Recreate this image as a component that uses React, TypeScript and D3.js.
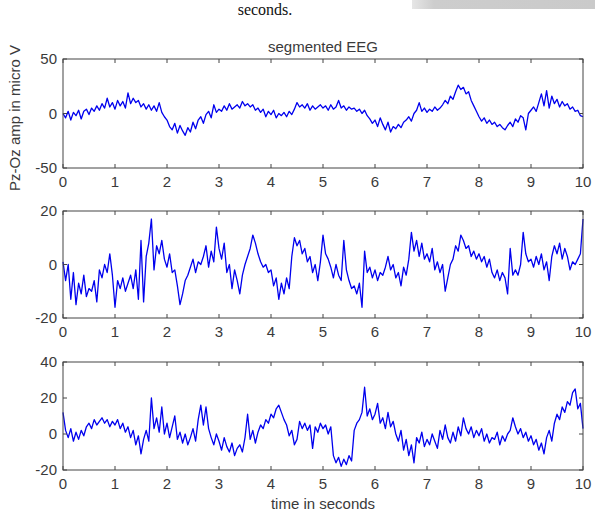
import React from "react";
import * as d3 from "d3";

// ---- data (µV, sampled every 0.05 s from 0 to 10 s) ----
const SAMPLE_STEP = 0.05;

const eeg1: number[] = [
  0, -4, 2, -6, 1, -2, 3, -5, 2, 4, -1, 5, 2, 7, 3, 9, 5, 14, 6, 10,
  4, 12, 7, 11, 5, 19, 9, 14, 10, 12, 6, 9, 4, 8, 3, 7, 2, 10, 1, -3,
  -6, -12, -15, -9, -18, -11, -16, -20, -13, -17, -8, -14, -6, -3, -9, -1, 2, -4, 8, 1,
  4, 2, 7, 3, 9, 4, 6, 8, 5, 11, 7, 9, 6, 8, 3, 5, 1, 4, -3, 2,
  -1, 3, -4, 0, -2, 1, -3, 2, -1, 4, 10, 6, 8, 5, 9, 3, 7, 4, 6, 8,
  5, 7, 3, 8, 4, 6, 12, 5, 7, 3, 6, 4, 5, 2, 4, 0, 3, -2, -5, -9,
  -6, -12, -4, -10, -15, -8, -17, -12, -14, -10, -13, -8, -6, -3, -7, 0, 3, 10, 2, 5,
  1, 4, 2, 6, 3, 5, 8, 12, 9, 16, 13, 20, 26, 22, 24, 18, 20, 12, 7, 2,
  -3, -7, -4, -9, -6, -10, -8, -12, -10, -13, -15, -11, -8, -12, -5, -8, -2, -4, -15, 0,
  3, 6, 2, 10, 18, 7, 21, 5, 16, 9, 13, 6, 11, 7, 9, 4, 6, 2, 3, -2,
  -3,
];

const eeg2: number[] = [
  1, -6, 0, -13, -3, -15, -7, -11, -4, -12, -9, -10, -6, -14, -2, -5, 0, -3, 4, -4,
  -16, -6, -9, -5, -10, -7, -4, -9, -2, -13, 9, -14, 3, 8, 17, -2, 7, 4, 9, 2,
  -1, 4, -3, -2, -8, -15, -11, -6, -4, -1, 2, -3, 1, 0, 3, 7, -1, 5, 1, 14,
  6, 2, 8, -3, 0, -9, -2, -6, -11, -4, 0, 3, 6, 11, 8, 4, 1, -1, 0, -3,
  -2, -8, -5, -13, -7, -11, -5, -9, 3, 10, 7, 9, 4, 6, 1, 3, -3, 0, -6, 1,
  11, 4, 2, -1, -5, 0, -4, -6, 9, -2, -6, -9, -8, -11, -7, -16, 5, -3, -1, -5,
  -2, -6, -3, -4, -1, 3, -2, 0, -5, -3, -8, -1, -4, 2, 12, 5, 9, 3, 8, 2,
  4, 1, 6, -2, 1, -3, 0, -10, -5, 0, 2, 7, 5, 11, 9, 6, 7, 3, 5, 2,
  4, 1, 3, -1, 2, -3, -5, -2, -6, -3, -5, -11, 6, -4, -2, -4, 0, 12, 4, 1,
  2, -1, 3, 0, 4, -2, 1, -6, 3, 7, 4, 8, 2, 6, 3, -2, 1, 0, 2, 4,
  17,
];

const eeg3: number[] = [
  12, 2, -2, 3, -4, 1, -3, 2, -1, 4, 6, 3, 8, 5, 7, 9, 6, 8, 4, 7,
  5, 8, 3, 6, 1, 4, -2, 2, -6, -1, -11, -3, 2, -4, 20, 3, 9, 1, 15, 0,
  6, -2, 4, 10, -3, 1, -5, 0, -6, -2, 3, -4, 8, 16, 5, 15, 3, -2, -6, 0,
  -4, -9, -2, -7, -10, -5, -12, -8, -6, -10, -2, 11, -3, 2, -5, 1, 5, 3, 8, 6,
  11, 9, 14, 16, 12, 8, 5, -1, 2, -6, -3, 7, 3, 6, 2, 5, -8, 4, 1, 6,
  3, 5, 0, 4, -12, -16, -13, -18, -14, -17, -12, -15, 2, 6, 8, 12, 26, 10, 14, 8,
  11, 17, 6, 9, 3, 12, 4, 7, 0, -4, 2, -9, -3, -12, -6, -16, -2, -5, 1, -7,
  -3, -6, 0, -4, -8, 2, -3, 5, -2, -5, 1, -4, 4, -1, 9, 3, 0, 4, -2, 2,
  -1, 3, -4, 0, -5, -2, -3, 1, -6, -1, -4, 0, 2, 9, 4, 0, 3, -2, 1, -4,
  -1, -6, -3, -9, -5, -11, -2, 2, -4, 6, 11, 8, 15, 12, 18, 16, 23, 25, 14, 17,
  3,
];

const xTicks: number[] = [0, 1, 2, 3, 4, 5, 6, 7, 8, 9, 10];
const yTicks1: number[] = [-50, 0, 50];
const yTicks2: number[] = [-20, 0, 20];
const yTicks3: number[] = [-20, 0, 20, 40];
const yDomain1: [number, number] = [-50, 50];
const yDomain2: [number, number] = [-20, 20];
const yDomain3: [number, number] = [-20, 40];

const titleText = "segmented EEG";
const xLabelText = "time in seconds";
const yLabelText = "Pz-Oz amp in micro V";
const topCutText = "seconds.";

// ---- layout ----
const W = 595;
const H = 511;
const LEFT = 63;
const RIGHT = 583;
const FONT = "Arial, 'Liberation Sans', Helvetica, sans-serif";
const TEXT_COLOR = "#3a3a3a";
const AXIS_COLOR = "#444";
const TICK_LEN = 4;

const panels = [
  { data: eeg1, domain: yDomain1, ticks: yTicks1, top: 59, bottom: 168 },
  { data: eeg2, domain: yDomain2, ticks: yTicks2, top: 211, bottom: 318 },
  { data: eeg3, domain: yDomain3, ticks: yTicks3, top: 362, bottom: 470 },
];

const x = d3.scaleLinear().domain([0, 10]).range([LEFT, RIGHT]);

function Panel({ p }: { p: (typeof panels)[number] }) {
  const y = d3.scaleLinear().domain(p.domain).range([p.bottom, p.top]);
  const line = d3
    .line<number>()
    .x((_, i) => x(i * SAMPLE_STEP))
    .y((v) => y(v));
  return (
    <g>
      <path d={line(p.data) || ""} fill="none" stroke="#0000ee" strokeWidth={1.3} strokeLinejoin="round" />
      <rect x={LEFT} y={p.top} width={RIGHT - LEFT} height={p.bottom - p.top} fill="none" stroke={AXIS_COLOR} strokeWidth={1} />
      {xTicks.map((t) => (
        <g key={"x" + t}>
          <line x1={x(t)} x2={x(t)} y1={p.bottom} y2={p.bottom - TICK_LEN} stroke={AXIS_COLOR} />
          <line x1={x(t)} x2={x(t)} y1={p.top} y2={p.top + TICK_LEN} stroke={AXIS_COLOR} />
          <text x={x(t)} y={p.bottom + 19} textAnchor="middle" fontSize={15} fontFamily={FONT} fill={TEXT_COLOR}>
            {t}
          </text>
        </g>
      ))}
      {p.ticks.map((t) => (
        <g key={"y" + t}>
          <line x1={LEFT} x2={LEFT + TICK_LEN} y1={y(t)} y2={y(t)} stroke={AXIS_COLOR} />
          <line x1={RIGHT} x2={RIGHT - TICK_LEN} y1={y(t)} y2={y(t)} stroke={AXIS_COLOR} />
          <text x={LEFT - 6} y={y(t) + 5} textAnchor="end" fontSize={15} fontFamily={FONT} fill={TEXT_COLOR}>
            {t}
          </text>
        </g>
      ))}
    </g>
  );
}

export default function App() {
  return (
    <svg
      width={W}
      height={H}
      viewBox={`0 0 ${W} ${H}`}
      style={{ position: "absolute", left: 0, top: 0, background: "#fff" }}
    >
      <defs>
        <linearGradient id="grayBar" x1="0" x2="1" y1="0" y2="0">
          <stop offset="0" stopColor="#e6e6e6" />
          <stop offset="0.12" stopColor="#cdcdcd" />
          <stop offset="1" stopColor="#cacaca" />
        </linearGradient>
      </defs>
      <rect x={0} y={0} width={W} height={H} fill="#fff" />
      <rect x={412} y={0} width={W - 412} height={9} fill="url(#grayBar)" />
      <text x={265} y={15} textAnchor="middle" fontSize={16} fontFamily="'Liberation Serif', 'Times New Roman', serif" fill="#111">
        {topCutText}
      </text>
      {panels.map((p, i) => (
        <Panel key={i} p={p} />
      ))}
      <text x={323} y={52} textAnchor="middle" fontSize={15} fontFamily={FONT} fill={TEXT_COLOR}>
        {titleText}
      </text>
      <text x={323} y={509} textAnchor="middle" fontSize={15} fontFamily={FONT} fill={TEXT_COLOR}>
        {xLabelText}
      </text>
      <text
        transform={`translate(20, 118) rotate(-90)`}
        textAnchor="middle"
        fontSize={15}
        fontFamily={FONT}
        fill={TEXT_COLOR}
      >
        {yLabelText}
      </text>
    </svg>
  );
}
